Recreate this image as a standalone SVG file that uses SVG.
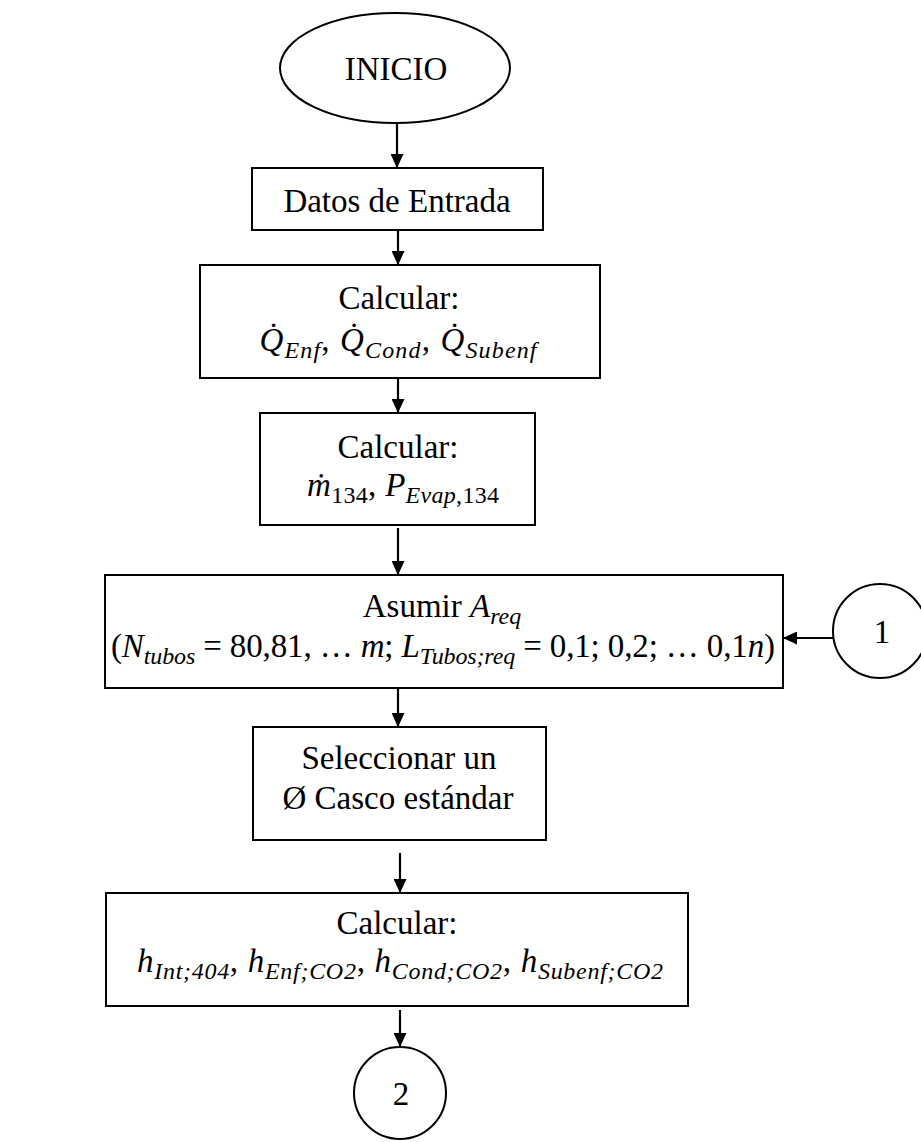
<svg xmlns="http://www.w3.org/2000/svg" width="921" height="1142" viewBox="0 0 921 1142">
<defs>
<marker id="ah" viewBox="0 0 14 13" refX="14" refY="6.5" markerWidth="14" markerHeight="13" markerUnits="userSpaceOnUse" orient="auto">
<path d="M0,0 L14,6.5 L0,13 z" fill="#000"/>
</marker>
<style>
.shape{fill:#fff;stroke:#000;stroke-width:2}
.t{font-family:"Liberation Serif","Times New Roman",serif;font-size:33px;fill:#000;text-anchor:middle}
.i{font-style:italic}
.s{font-size:24px}
.c{stroke:#000;stroke-width:2.2;fill:none;marker-end:url(#ah)}
</style>
</defs>
<rect width="921" height="1142" fill="#fff"/>
<g id="connectors">
<line class="c" x1="397" y1="123" x2="397" y2="168"/>
<line class="c" x1="398" y1="230" x2="398" y2="265"/>
<line class="c" x1="398" y1="378" x2="398" y2="413"/>
<line class="c" x1="398" y1="528" x2="398" y2="575"/>
<line class="c" x1="835" y1="638" x2="783" y2="638"/>
<line class="c" x1="398" y1="688" x2="398" y2="727"/>
<line class="c" x1="400" y1="853" x2="400" y2="893"/>
<line class="c" x1="400" y1="1010" x2="400" y2="1047"/>
</g>
<g id="inicio">
<ellipse class="shape" cx="395" cy="68" rx="115" ry="55"/>
<text class="t" x="396" y="80">INICIO</text>
</g>
<g id="datos">
<rect class="shape" x="252" y="168" width="291" height="62"/>
<text class="t" x="397" y="212">Datos de Entrada</text>
</g>
<g id="calc1">
<rect class="shape" x="200" y="265" width="400" height="113"/>
<text class="t" x="399" y="309">Calcular:</text>
<text class="t" x="398" y="351" textLength="277"><tspan class="i">Q̇</tspan><tspan class="i s" dy="7">Enf</tspan><tspan dy="-7">, </tspan><tspan class="i">Q̇</tspan><tspan class="i s" dy="7">Cond</tspan><tspan dy="-7">, </tspan><tspan class="i">Q̇</tspan><tspan class="i s" dy="7">Subenf</tspan></text>
</g>
<g id="calc2">
<rect class="shape" x="260" y="413" width="275" height="112"/>
<text class="t" x="398" y="458">Calcular:</text>
<text class="t" x="403" y="496" textLength="192"><tspan class="i">ṁ</tspan><tspan class="s" dy="7">134</tspan><tspan dy="-7">, </tspan><tspan class="i">P</tspan><tspan class="i s" dy="7">Evap</tspan><tspan class="s">,134</tspan></text>
</g>
<g id="asumir">
<rect class="shape" x="105" y="575" width="678" height="113"/>
<text class="t" x="442" y="617">Asumir <tspan class="i">A</tspan><tspan class="i s" dy="7">req</tspan></text>
<text class="t" x="443" y="657" textLength="664">(<tspan class="i">N</tspan><tspan class="i s" dy="7">tubos</tspan><tspan dy="-7"> = 80,81, … </tspan><tspan class="i">m</tspan><tspan>;  </tspan><tspan class="i">L</tspan><tspan class="i s" dy="7">Tubos;req</tspan><tspan dy="-7"> = 0,1; 0,2; … 0,1</tspan><tspan class="i">n</tspan><tspan>)</tspan></text>
</g>
<g id="conector1">
<circle class="shape" cx="880" cy="631" r="47"/>
<text class="t" x="882" y="643">1</text>
</g>
<g id="seleccionar">
<rect class="shape" x="253" y="727" width="293" height="113"/>
<text class="t" x="399" y="769">Seleccionar un</text>
<text class="t" x="398" y="809">Ø Casco estándar</text>
</g>
<g id="calc3">
<rect class="shape" x="106" y="893" width="582" height="113"/>
<text class="t" x="397" y="934">Calcular:</text>
<text class="t" x="400" y="972" textLength="526"><tspan class="i">h</tspan><tspan class="i s" dy="7">Int;404</tspan><tspan dy="-7">, </tspan><tspan class="i">h</tspan><tspan class="i s" dy="7">Enf;CO2</tspan><tspan dy="-7">, </tspan><tspan class="i">h</tspan><tspan class="i s" dy="7">Cond;CO2</tspan><tspan dy="-7">, </tspan><tspan class="i">h</tspan><tspan class="i s" dy="7">Subenf;CO2</tspan></text>
</g>
<g id="conector2">
<circle class="shape" cx="400" cy="1093" r="46"/>
<text class="t" x="401" y="1105">2</text>
</g>
</svg>
